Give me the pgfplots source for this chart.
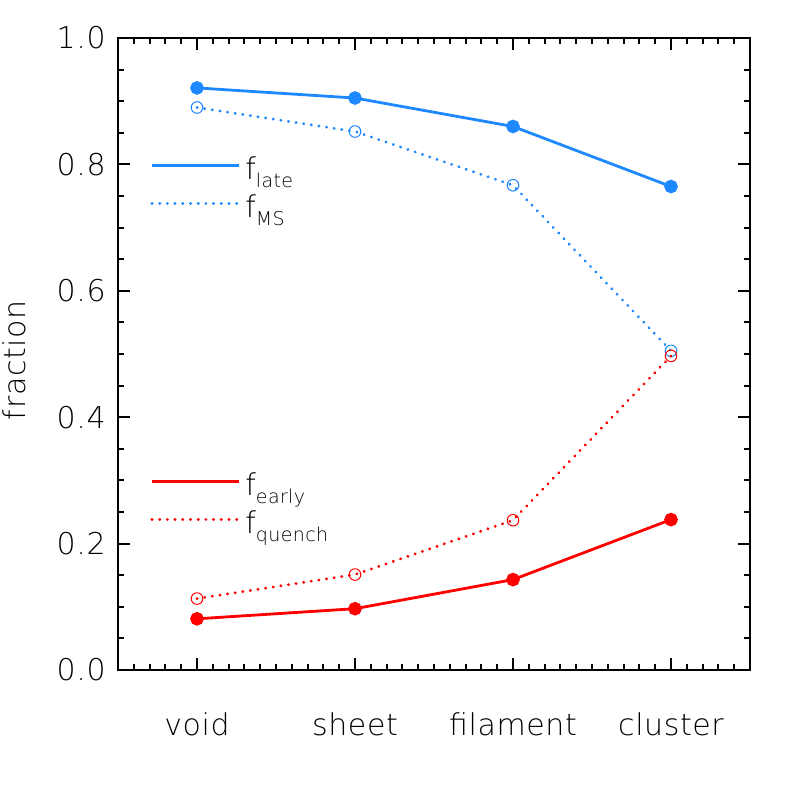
\documentclass[border=0pt]{standalone}
\usepackage{fontspec}
\setmainfont{DejaVu Sans}[UprightFont={* ExtraLight}, LetterSpace=2]
\usepackage{pgfplots}
\pgfplotsset{compat=1.18}
\definecolor{myblue}{RGB}{30,136,255}
\definecolor{myred}{RGB}{255,0,0}
\newcommand{\sub}[1]{\raisebox{-4pt}{\fontsize{9.5}{10}\selectfont #1}}
\pgfplotsset{
  common/.style={
    width=316pt, height=316pt, scale only axis,
    xmin=-0.5, xmax=3.5, ymin=0, ymax=1,
    clip=false,
    legend image code/.code={\draw[##1,mark=none] (0pt,0pt) -- (43.5pt,0pt);},
    legend style={draw=none, fill=none, inner sep=0pt, anchor=north west,
      row sep=5pt, cells={anchor=center},
      nodes={inner sep=0pt, text height=14pt, text depth=0pt},
      /tikz/every odd column/.append style={column sep=2.5pt}},
    legend cell align=left,
  },
  dotted line/.style={dash pattern=on 0.1pt off 3.75pt, line cap=round, line width=1.5pt},
}
\begin{document}
\fontsize{15}{18}\selectfont
\begin{tikzpicture}
\begin{axis}[common,
  axis line style={line width=1pt},
  every tick/.style={black, line width=1pt},
  tick align=inside,
  major tick length=6pt, minor tick length=3pt,
  xtick={0,1,2,3}, xticklabels={void,sheet,filament,cluster},
  minor xtick={-0.4,-0.3,-0.2,-0.1,0.1,0.2,0.3,0.4,0.5,0.6,0.7,0.8,0.9,1.1,1.2,1.3,1.4,1.5,1.6,1.7,1.8,1.9,2.1,2.2,2.3,2.4,2.5,2.6,2.7,2.8,2.9,3.1,3.2,3.3,3.4},
  ytick={0,0.2,0.4,0.6,0.8,1.0},
  minor ytick={0.05,0.1,0.15,0.25,0.3,0.35,0.45,0.5,0.55,0.65,0.7,0.75,0.85,0.9,0.95},
  yticklabel style={/pgf/number format/.cd, fixed, fixed zerofill, precision=1, assume math mode=true, /tikz/.cd, anchor=east, inner xsep=0pt, xshift=-6pt},
  xticklabel style={anchor=base, inner sep=0pt, yshift=-32.5pt},
  ylabel={fraction},
  ylabel style={at={(axis description cs:-0.1456,0.49)}, anchor=base, inner sep=0pt},
  legend style={at={(axis description cs:0.0506,0.8212)}},
]
\coordinate (bbl) at (axis description cs:-0.1867,-0.1883);
\coordinate (btr) at (axis description cs:1.0617,1.0601);
\addplot[myblue, line width=1.4pt, mark=*, mark size=2.7pt, mark options={solid, fill=myblue}]
  coordinates {(0,0.921) (1,0.905) (2,0.860) (3,0.765)};
\addlegendentry{f\sub{late}}
\addplot[myblue, dotted line, mark=o, mark size=2.9pt, mark options={solid, line width=0.5pt}]
  coordinates {(0,0.890) (1,0.852) (2,0.767) (3,0.505)};
\addlegendentry{f\sub{MS}}
\end{axis}
\begin{axis}[common, hide axis,
  legend style={at={(axis description cs:0.0506,0.3212)}},
]
\addplot[myred, line width=1.4pt, mark=*, mark size=2.7pt, mark options={solid, fill=myred}]
  coordinates {(0,0.081) (1,0.097) (2,0.143) (3,0.238)};
\addlegendentry{f\sub{early}}
\addplot[myred, dotted line, mark=o, mark size=2.9pt, mark options={solid, line width=0.5pt}]
  coordinates {(0,0.113) (1,0.151) (2,0.237) (3,0.497)};
\addlegendentry{f\sub{quench}}
\end{axis}
\pgfresetboundingbox
\path[use as bounding box] (bbl) rectangle (btr);
\end{tikzpicture}
\end{document}
